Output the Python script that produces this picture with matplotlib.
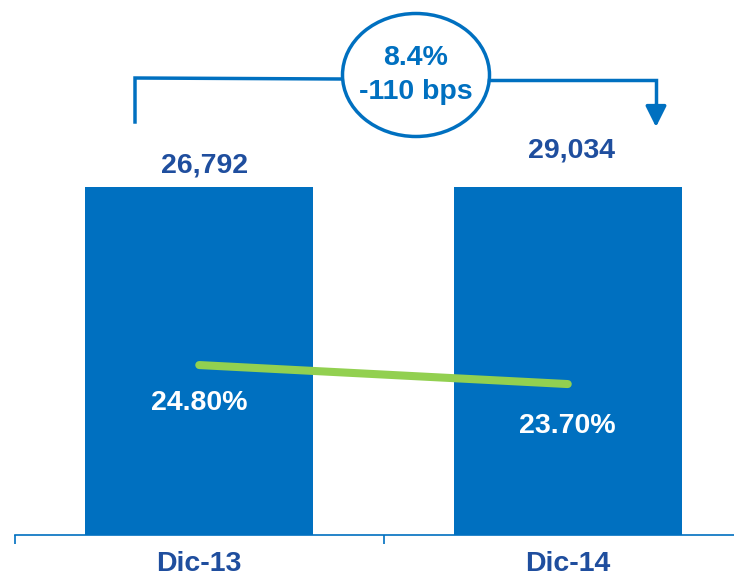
import matplotlib
matplotlib.use("Agg")
import matplotlib.pyplot as plt
from matplotlib.patches import Ellipse, FancyArrowPatch
from matplotlib.lines import Line2D
import matplotlib.transforms as mtransforms

plt.rcParams['font.family'] = ['Liberation Sans', 'DejaVu Sans']

categories = ["Dic-13", "Dic-14"]
amounts = [26792, 29034]
amount_labels = ["26,792", "29,034"]
ratios = [24.80, 23.70]
ratio_labels = ["24.80%", "23.70%"]
growth_label = "8.4%\n-110 bps"

BAR = '#0070C0'
DARK = '#1F4E9E'
GREEN = '#92D050'
FS = 20.5

W, H = 734, 580
fig = plt.figure(figsize=(W / 100, H / 100), dpi=100)

def fx(px):
    return px / W

def fy(py):
    return 1 - py / H

ax = fig.add_axes([fx(15), fy(535), (752 - 15) / W, (535 - 187) / H])
x = list(range(len(categories)))
ax.bar(x, amounts, width=0.62, color=BAR, zorder=2)
ax.set_xlim(-0.5, 1.5)
ax.set_ylim(0, 26000)
for s in ['top', 'left', 'right']:
    ax.spines[s].set_visible(False)
ax.spines['bottom'].set_color(BAR)
ax.spines['bottom'].set_linewidth(1.2)
ax.set_yticks([])
ax.set_xticks(x)
ax.set_xticklabels(categories, fontsize=FS, fontweight='bold', color=DARK)
ax.tick_params(axis='x', which='major', length=0, pad=11.5)
ax.set_xticks([-0.5, 0.5, 1.5], minor=True)
ax.tick_params(axis='x', which='minor', length=6.5, width=1.2, color=BAR, direction='out')

# value labels above bars
trans = mtransforms.blended_transform_factory(ax.transData, ax.transAxes)
label_y = [1.043, 1.086]
label_dx = [0.014, 0.011]
for i, lab in enumerate(amount_labels):
    ax.text(x[i] + label_dx[i], label_y[i], lab, transform=trans, ha='center', va='baseline',
            fontsize=FS, fontweight='bold', color=DARK, clip_on=False)

# ratio line on secondary axis
ax2 = ax.twinx()
ax2.set_ylim(14.96, 35.11)
ax2.plot(x, ratios, color=GREEN, lw=5.8, solid_capstyle='round', zorder=3)
ax2.set_yticks([])
for s in ax2.spines.values():
    s.set_visible(False)
offs = [-32.4, -35.3]
for i, lab in enumerate(ratio_labels):
    ax2.annotate(lab, (x[i], ratios[i]), xytext=(0, offs[i]), textcoords='offset points',
                 ha='center', va='baseline', fontsize=FS, fontweight='bold', color='white')

# growth annotation: bracket, ellipse and arrow
lw = 2.5
fig.add_artist(Line2D([fx(135), fx(135), fx(342)], [fy(122), fy(78), fy(79)],
                      color=BAR, lw=lw, solid_joinstyle='miter'))
fig.add_artist(Line2D([fx(489), fx(656), fx(656)], [fy(80), fy(80), fy(112)],
                      color=BAR, lw=lw, solid_joinstyle='miter'))
fig.add_artist(FancyArrowPatch((fx(656), fy(105)), (fx(656), fy(127)),
                               transform=fig.transFigure,
                               arrowstyle='-|>,head_length=0.9,head_width=0.45',
                               mutation_scale=14, color=BAR, lw=lw,
                               shrinkA=0, shrinkB=0))
fig.add_artist(Ellipse((fx(416), fy(75)), 147 / W, 123 / H, transform=fig.transFigure,
                       facecolor='white', edgecolor=BAR, lw=lw))
fig.text(fx(416), fy(75), growth_label, ha='center', va='center', fontsize=FS,
         fontweight='bold', color=BAR, linespacing=1.4)

fig.savefig('out.png', dpi=100)
